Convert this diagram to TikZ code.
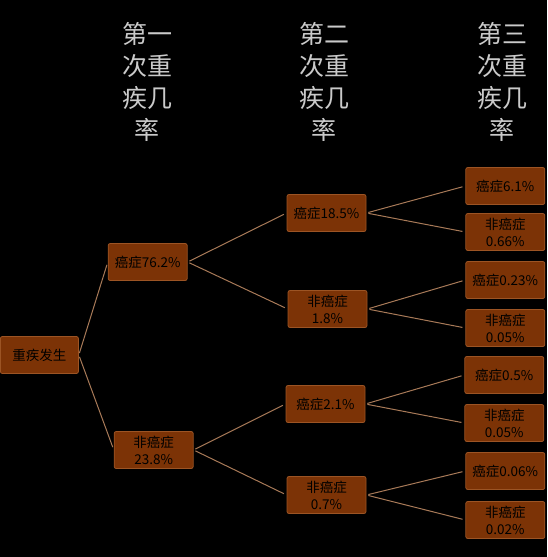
\documentclass[tikz,border=0pt]{standalone}
\usepackage{fontspec}
\newfontfamily\cjk{Noto Sans CJK SC}
\usetikzlibrary{positioning}
\definecolor{boxfill}{HTML}{7C3306}
\definecolor{boxline}{HTML}{9C5424}
\definecolor{twig}{HTML}{A87A58}
\definecolor{headgray}{HTML}{CACACA}
\tikzset{
  leaf/.style   ={rounded corners=2pt,draw=boxline,line width=0.8pt,fill=boxfill,
                  minimum width=79pt,minimum height=37pt,inner sep=1pt,align=center,
                  font=\cjk\fontsize{13.5}{17}\selectfont,text=black},
  rootbox/.style={leaf,minimum width=78pt},
  head/.style   ={align=center,anchor=north,text=headgray,
                  font=\cjk\fontsize{25}{32}\selectfont},
  link/.style   ={draw=twig,line width=1pt,shorten <=2pt,shorten >=3pt}
}
\begin{document}
\begin{tikzpicture}[x=1pt,y=-1pt]
  \fill[black] (0,0) rectangle (547,557);
  % column titles
  \node[head] (h1) at (147,19) {第一\\次重\\疾几\\率};
  \node[head] (h2) at (324,19) {第二\\次重\\疾几\\率};
  \node[head] (h3) at (502,19) {第三\\次重\\疾几\\率};
  % tree
  \node[rootbox] (root) at (39,355) {重疾发生};
  \node[leaf,right=29pt of root,yshift=93pt] (ca) {癌症76.2\%};
  \node[leaf,right=35pt of root,yshift=-95pt] (nc) {非癌症\\23.8\%};
  \node[leaf,right=99pt of ca,yshift=49pt] (caca) {癌症18.5\%};
  \node[leaf,right=100pt of ca,yshift=-47pt] (canc) {非癌症\\1.8\%};
  \node[leaf,right=92pt of nc,yshift=46pt] (ncca) {癌症2.1\%};
  \node[leaf,right=93pt of nc,yshift=-45pt] (ncnc) {非癌症\\0.7\%};
  \node[leaf,right=99pt of caca,yshift=27pt] (l1) {癌症6.1\%};
  \node[leaf,right=99pt of caca,yshift=-19pt] (l2) {非癌症\\0.66\%};
  \node[leaf,right=98pt of canc,yshift=29pt] (l3) {癌症0.23\%};
  \node[leaf,right=98pt of canc,yshift=-19pt] (l4) {非癌症\\0.05\%};
  \node[leaf,right=99pt of ncca,yshift=29pt] (l5) {癌症0.5\%};
  \node[leaf,right=99pt of ncca,yshift=-19pt] (l6) {非癌症\\0.05\%};
  \node[leaf,right=99pt of ncnc,yshift=24pt] (l7) {癌症0.06\%};
  \node[leaf,right=99pt of ncnc,yshift=-25pt] (l8) {非癌症\\0.02\%};
  \draw[link] (root.east) -- (ca.west); \draw[link] (root.east) -- (nc.west);
  \draw[link] (ca.east) -- (caca.west); \draw[link] (ca.east) -- (canc.west);
  \draw[link] (nc.east) -- (ncca.west); \draw[link] (nc.east) -- (ncnc.west);
  \draw[link] (caca.east) -- (l1.west); \draw[link] (caca.east) -- (l2.west);
  \draw[link] (canc.east) -- (l3.west); \draw[link] (canc.east) -- (l4.west);
  \draw[link] (ncca.east) -- (l5.west); \draw[link] (ncca.east) -- (l6.west);
  \draw[link] (ncnc.east) -- (l7.west); \draw[link] (ncnc.east) -- (l8.west);
\end{tikzpicture}
\end{document}
